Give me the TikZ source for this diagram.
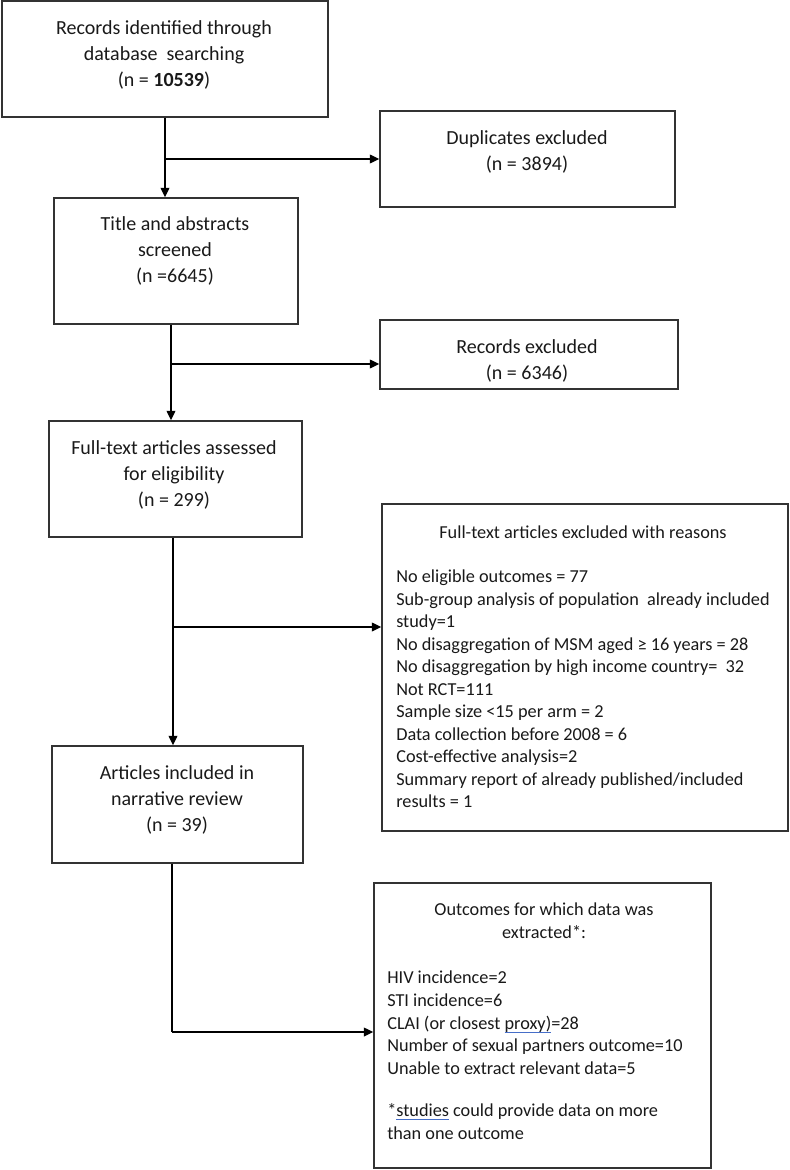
\documentclass[tikz,border=0pt]{standalone}
\usepackage{fontspec}
\setmainfont{Carlito}
\usetikzlibrary{arrows.meta,fit}
\newcommand{\spellmark}[1]{\setbox0\hbox{#1}\rlap{\textcolor[RGB]{70,110,200}{\rule[-2.8pt]{\wd0}{0.8pt}}}\box0\relax}
\begin{document}
\begin{tikzpicture}[x=0.75pt,y=-0.75pt,
  box/.style={draw=black!80, line width=1.1pt, inner sep=0pt},
  big/.style={font=\fontsize{15}{19.5}\selectfont, align=center, inner sep=0pt, anchor=north, text=black!90},
  smallc/.style={font=\fontsize{13.7}{16.9}\selectfont, align=center, inner sep=0pt, anchor=north, text=black!90},
  smalll/.style={font=\fontsize{13.7}{16.9}\selectfont, align=left, inner sep=0pt, anchor=north west, text=black!90},
  arr/.style={draw=black, line width=1pt, -{Triangle[length=7pt,width=6.5pt]}},
  ln/.style={draw=black, line width=1pt}]
\useasboundingbox (0,0) rectangle (789,1170);

% boxes
\node[box, fit={(2,1) (328,117)}] (b1) {};
\node[box, fit={(54,198) (298,324)}] (b2) {};
\node[box, fit={(380,111) (675,207)}] (dup) {};
\node[box, fit={(380,320) (678,389)}] (recex) {};
\node[box, fit={(49,421) (302,537)}] (b3) {};
\node[box, fit={(52,746) (303,863)}] (b4) {};
\node[box, fit={(382,504) (788,831)}] (reasons) {};
\node[box, fit={(374,883) (711,1168)}] (outc) {};

% texts
\node[big] (t1) at (164,20) {Records identified through\\database\ \ searching\\(n = \textbf{10539})};
\node[big] (t2) at (175,216) {Title and abstracts\\screened\\(n =6645)};
\node[big] (tdup) at (527,130) {Duplicates excluded\\(n = 3894)};
\node[big] (trec) at (527,339) {Records excluded\\(n = 6346)};
\node[big] (t3) at (174,440) {Full-text articles assessed\\for eligibility\\(n = 299)};
\node[big] (t4) at (177,765) {Articles included in\\narrative review\\(n = 39)};

\node[smallc] (trs) at (583,525.6) {Full-text articles excluded with reasons};
\node[smalll] (lrs) at (396,569.6) {No eligible outcomes = 77\\
Sub-group analysis of population\ \ already included\\
study=1\\
No disaggregation of MSM aged ≥ 16 years = 28\\
No disaggregation by high income country=\ \ 32\\
Not RCT=111\\
Sample size <15 per arm = 2\\
Data collection before 2008 = 6\\
Cost-effective analysis=2\\
Summary report of already published/included\\
results = 1};

\node[smallc] (tout) at (544,902.6) {Outcomes for which data was\\extracted*:};
\node[smalll] (lout) at (387,971) {HIV incidence=2\\
STI incidence=6\\
CLAI (or closest \spellmark{proxy)}=28\\
Number of sexual partners outcome=10\\
Unable to extract relevant data=5\\[15pt]
*\spellmark{studies} could provide data on more\\
than one outcome};

% junctions
\coordinate (j1) at (165,159);
\coordinate (j2) at (171,364);
\coordinate (j3) at (173,627);
\coordinate (j4) at (172,1032);

% connectors
\draw[arr] (j1 |- b1.south) -- (j1 |- b2.north);
\draw[arr] (j1) -- (j1 -| dup.west);
\draw[arr] (j2 |- b2.south) -- (j2 |- b3.north);
\draw[arr] (j2) -- (j2 -| recex.west);
\draw[arr] (j3 |- b3.south) -- (j3 |- b4.north);
\draw[arr] (j3) -- (j3 -| reasons.west);
\draw[ln] (j4 |- b4.south) -- (j4);
\draw[arr] (j4) -- (j4 -| outc.west);
\end{tikzpicture}
\end{document}
